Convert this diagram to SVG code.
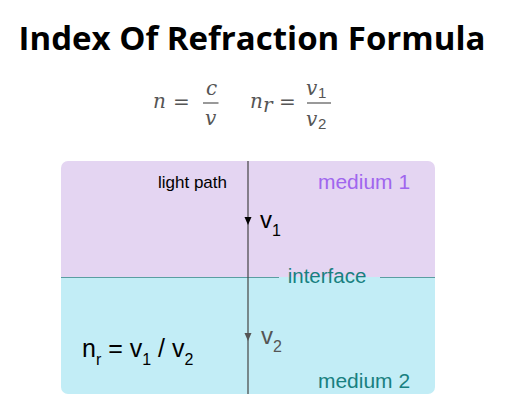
<svg xmlns="http://www.w3.org/2000/svg" width="513" height="415" viewBox="0 0 513 415">
<style>
.t{font-family:"Open Sans","Noto Sans",sans-serif;font-weight:bold;font-size:33px;fill:#000}
.m{font-family:"DejaVu Serif","Liberation Serif",serif;font-style:italic;font-size:20px;fill:#555}
.mu{font-family:"DejaVu Sans","Liberation Sans",sans-serif;font-size:20px;fill:#555}
.s{font-family:"Liberation Sans",Arial,sans-serif}
</style>
<defs>
<clipPath id="box"><rect x="61" y="161" width="374" height="233" rx="7"/></clipPath>
</defs>
<text class="t" x="252" y="50" text-anchor="middle">Index Of Refraction Formula</text>
<g id="formula">
<text class="m" x="153" y="108">n</text>
<text class="mu" x="173" y="108">=</text>
<text class="m" x="206" y="95">c</text>
<line x1="203" y1="103" x2="218.5" y2="103" stroke="#555" stroke-width="1.2"/>
<text class="m" x="205" y="125">v</text>
<text class="m" x="250" y="108">n</text>
<text class="m" x="263" y="112" font-size="14">r</text>
<text class="mu" x="279" y="108">=</text>
<text class="m" x="306" y="95">v</text>
<text class="s" x="318" y="98" font-size="15" fill="#555">1</text>
<line x1="307" y1="103" x2="331" y2="103" stroke="#555" stroke-width="1.2"/>
<text class="m" x="306" y="126">v</text>
<text class="s" x="318" y="129" font-size="15" fill="#555">2</text>
</g>
<g id="medium1">
<rect x="61" y="161" width="374" height="116" fill="#e4d5f2" clip-path="url(#box)"/>
<text class="s" x="364" y="189" font-size="21" fill="#a066ee" text-anchor="middle">medium 1</text>
</g>
<g id="medium2">
<rect x="61" y="277" width="374" height="117" fill="#c2edf6" clip-path="url(#box)"/>
<text class="s" x="364" y="388" font-size="21" fill="#188080" text-anchor="middle">medium 2</text>
<text class="s" x="82" y="357" font-size="25" fill="#000">n<tspan font-size="16" dy="8">r</tspan><tspan dy="-8"> = v</tspan><tspan font-size="16" dy="8">1</tspan><tspan dy="-8"> / v</tspan><tspan font-size="16" dy="8">2</tspan></text>
</g>
<g id="interface">
<line x1="61" y1="277.5" x2="279" y2="277.5" stroke="#5a9ea2" stroke-width="1.2"/>
<line x1="380" y1="277.5" x2="435" y2="277.5" stroke="#5a9ea2" stroke-width="1.2"/>
<text class="s" x="327" y="283" font-size="20.5" fill="#188080" text-anchor="middle">interface</text>
</g>
<g id="connectors">
<line x1="248" y1="161" x2="248" y2="394" stroke="#444" stroke-width="1.2"/>
<path d="M244.5,217 L251.5,217 L248,225 Z" fill="#000"/>
<path d="M244.5,333 L251.5,333 L248,341 Z" fill="#555"/>
</g>
<g id="labels">
<text class="s" x="158" y="188" font-size="17" fill="#000">light path</text>
<text class="s" x="260" y="228" font-size="24" fill="#000">v<tspan font-size="16" dy="8">1</tspan></text>
<text class="s" x="261" y="344" font-size="24" fill="#555">v<tspan font-size="16" dy="8">2</tspan></text>
</g>
</svg>
